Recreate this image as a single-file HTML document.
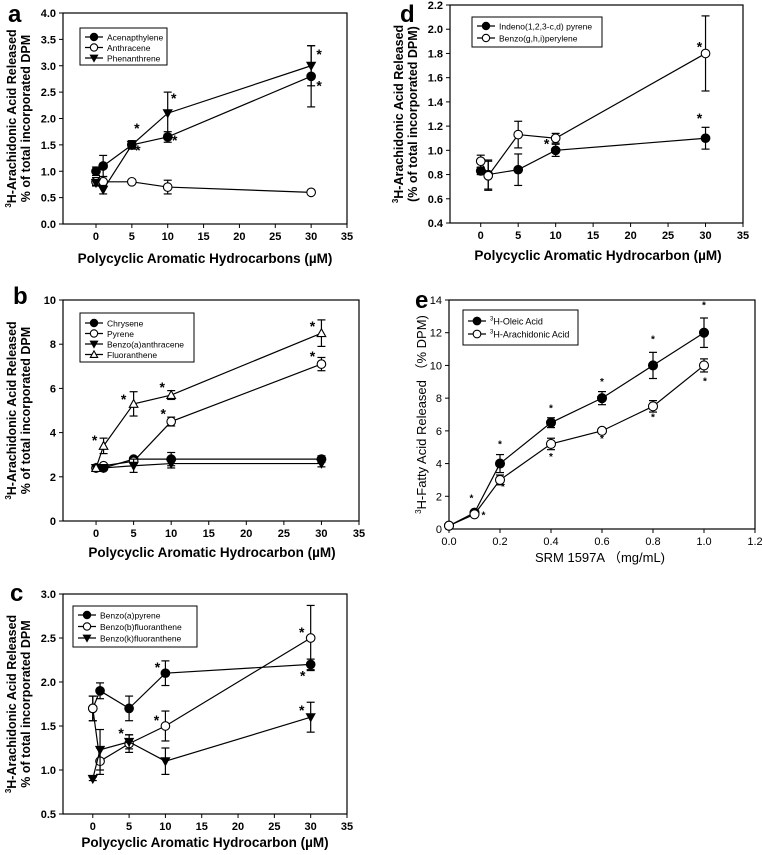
<!DOCTYPE html>
<html><head><meta charset="utf-8"><style>
html,body{margin:0;padding:0;background:#fff;}
svg{display:block;font-family:"Liberation Sans",Arial,sans-serif;}
</style></head><body>
<svg id="fig" width="762" height="855" viewBox="0 0 762 855" xmlns="http://www.w3.org/2000/svg"></svg>
<script>
// ---------- Panel data ----------
const xPah = [0, 1, 5, 10, 30];
const xTicksPah = [0, 5, 10, 15, 20, 25, 30, 35];

// panel a
const aAcenY = [1.0, 1.1, 1.5, 1.65, 2.8];
const aAcenE = [0.08, 0.2, 0.07, 0.1, 0.58];
const aAnthY = [0.8, 0.8, 0.8, 0.7, 0.6];
const aAnthE = [0.08, 0.1, 0.04, 0.13, 0.02];
const aPhenY = [0.78, 0.65, 1.5, 2.1, 3.0];
const aPhenE = [0.05, 0.08, 0.08, 0.4, 0.38];
const aYTicks = [0.0, 0.5, 1.0, 1.5, 2.0, 2.5, 3.0, 3.5, 4.0];

// panel b
const bChryY = [2.4, 2.4, 2.8, 2.8, 2.8];
const bChryE = [0.05, 0.05, 0.1, 0.3, 0.15];
const bPyrY = [2.4, 2.5, 2.7, 4.5, 7.1];
const bPyrE = [0.05, 0.05, 0.1, 0.2, 0.3];
const bBaaY = [2.4, 2.4, 2.5, 2.6, 2.6];
const bBaaE = [0.05, 0.05, 0.3, 0.2, 0.15];
const bFluY = [2.4, 3.4, 5.3, 5.7, 8.5];
const bFluE = [0.05, 0.35, 0.55, 0.2, 0.6];
const bYTicks = [0, 2, 4, 6, 8, 10];

// panel c
const cBapY = [1.7, 1.9, 1.7, 2.1, 2.2];
const cBapE = [0.14, 0.09, 0.14, 0.14, 0.06];
const cBbfY = [1.7, 1.1, 1.3, 1.5, 2.5];
const cBbfE = [0.14, 0.15, 0.1, 0.17, 0.37];
const cBkfY = [0.9, 1.23, 1.32, 1.1, 1.6];
const cBkfE = [0.02, 0.23, 0.08, 0.15, 0.17];
const cYTicks = [0.5, 1.0, 1.5, 2.0, 2.5, 3.0];

// panel d
const dIndY = [0.83, 0.8, 0.84, 1.0, 1.1];
const dIndE = [0.03, 0.12, 0.13, 0.05, 0.09];
const dBghiY = [0.91, 0.79, 1.13, 1.1, 1.8];
const dBghiE = [0.05, 0.12, 0.11, 0.04, 0.31];
const dYTicks = [0.4, 0.6, 0.8, 1.0, 1.2, 1.4, 1.6, 1.8, 2.0, 2.2];

// panel e
const eX = [0, 0.1, 0.2, 0.4, 0.6, 0.8, 1.0];
const eOleY = [0.2, 1.0, 4.0, 6.5, 8.0, 10.0, 12.0];
const eOleE = [0.05, 0.1, 0.55, 0.3, 0.4, 0.8, 0.9];
const eAraY = [0.2, 0.9, 3.0, 5.2, 6.0, 7.5, 10.0];
const eAraE = [0.05, 0.1, 0.3, 0.35, 0.1, 0.35, 0.4];
const eXTicks = [0.0, 0.2, 0.4, 0.6, 0.8, 1.0, 1.2];
const eYTicks = [0, 2, 4, 6, 8, 10, 12, 14];

// ---------- drawing helpers ----------
const NS = "http://www.w3.org/2000/svg";
const svg = document.getElementById("fig");
function mk(tag, attrs, parent, text) {
  const e = document.createElementNS(NS, tag);
  for (const k in attrs) e.setAttribute(k, attrs[k]);
  if (text !== undefined) e.textContent = text;
  (parent || svg).appendChild(e);
  return e;
}
function marker(g, type, x, y, r) {
  let el;
  if (type === "fc" || type === "oc") {
    el = mk("circle", {cx: x, cy: y, r: r, fill: type === "fc" ? "#000" : "#fff", stroke: "#000", "stroke-width": 1.1}, g);
  } else if (type === "dt") {
    el = mk("polygon", {points: `${x-r},${y-r*0.8} ${x+r},${y-r*0.8} ${x},${y+r}`, fill: "#000", stroke: "#000", "stroke-width": 1}, g);
  } else {
    el = mk("polygon", {points: `${x-r},${y+r*0.8} ${x+r},${y+r*0.8} ${x},${y-r}`, fill: "#fff", stroke: "#000", "stroke-width": 1.1}, g);
  }
  return el;
}

function panel(cfg) {
  const g = mk("g", {});
  
  
  const sx = v => cfg.L + (v - cfg.x0) / (cfg.x1 - cfg.x0) * (cfg.R - cfg.L);
  const sy = v => cfg.B - (v - cfg.y0) / (cfg.y1 - cfg.y0) * (cfg.B - cfg.T);
  const box = mk("rect", {x: cfg.L, y: cfg.T, width: cfg.R - cfg.L, height: cfg.B - cfg.T, fill: "none", stroke: "#000", "stroke-width": 1.2}, g);
  
  
  const fw = cfg.bold ? "bold" : "normal";
  cfg.xTicks.forEach(t => {
    const x = sx(t);
    mk("line", {x1: x, x2: x, y1: cfg.B, y2: cfg.B + 4, stroke: "#000"}, g);
    const tl = mk("text", {x: x, y: cfg.B + 16, "text-anchor": "middle", "font-size": 11, "font-weight": fw}, g, cfg.xFmt(t));
    
    
  });
  cfg.yTicks.forEach(t => {
    const y = sy(t);
    mk("line", {x1: cfg.L - 4, x2: cfg.L, y1: y, y2: y, stroke: "#000"}, g);
    const tl = mk("text", {x: cfg.L - 7, y: y + 4, "text-anchor": "end", "font-size": 11, "font-weight": fw}, g, cfg.yFmt(t));
    
    
  });
  cfg.series.forEach(s => {
    const sg = mk("g", {}, g);
    
    
    const pts = s.y.map((v, i) => sx(cfg.x[i]) + "," + sy(v)).join(" ");
    mk("polyline", {points: pts, fill: "none", stroke: "#000", "stroke-width": 1.2}, sg);
    s.y.forEach((v, i) => {
      const x = sx(cfg.x[i]), y1 = sy(v + s.e[i]), y2 = sy(v - s.e[i]);
      mk("line", {x1: x, x2: x, y1: y1, y2: y2, stroke: "#000", "stroke-width": 1.2}, sg);
      mk("line", {x1: x - 4, x2: x + 4, y1: y1, y2: y1, stroke: "#000", "stroke-width": 1.2}, sg);
      mk("line", {x1: x - 4, x2: x + 4, y1: y2, y2: y2, stroke: "#000", "stroke-width": 1.2}, sg);
    });
    s.y.forEach((v, i) => {
      const m = marker(sg, s.m, sx(cfg.x[i]), sy(v), cfg.r);
      
      
    });
    (s.stars || []).forEach(st => {
      const idx = st[0];
      const t = mk("text", {x: sx(cfg.x[idx]) + st[1], y: sy(s.y[idx]) + st[2], "text-anchor": "middle", "font-size": cfg.starSize || 14, "font-weight": "bold"}, sg, "*");
      
      
    });
  });
  // legend
  const lg = mk("g", {}, g);
  
  
  const lb = cfg.leg;
  mk("rect", {x: lb.x, y: lb.y, width: lb.w, height: lb.h, fill: "#fff", stroke: "#000", "stroke-width": 1}, lg);
  cfg.series.forEach((s, i) => {
    const y = lb.y + lb.pad + i * lb.dy;
    const e = mk("g", {}, lg);
    
    
    mk("line", {x1: lb.x + 5, x2: lb.x + 23, y1: y, y2: y, stroke: "#000", "stroke-width": 1.2}, e);
    marker(e, s.m, lb.x + 14, y, cfg.r * 0.85);
    const t = mk("text", {x: lb.x + 27, y: y + 3.5, "font-size": lb.fs || 9.5, "font-weight": cfg.legBold ? "bold" : "normal"}, e);
    if (s.sup) { mk("tspan", {"font-size": 6, dy: -4}, t, s.sup); mk("tspan", {dy: 4}, t, s.label); }
    else t.textContent = s.label;
  });
  // titles
  const letter = mk("text", {x: cfg.letter[0], y: cfg.letter[1], "font-size": 24, "font-weight": "bold"}, g, cfg.letterText);
  
  
  const xl = mk("text", {x: cfg.xl[0], y: cfg.xl[1], "text-anchor": "middle", "font-size": cfg.xlSize || 13.5, "font-weight": cfg.xlBold === false ? "normal" : "bold"}, g);
  
  
  xl.textContent = cfg.xlText;
  cfg.yl.forEach((ln, i) => {
    const cx = ln.x, cy = (cfg.T + cfg.B) / 2;
    const t = mk("text", {x: cx, y: cy, "text-anchor": "middle", "font-size": cfg.ylSize || 12.5, "font-weight": cfg.ylBold === false ? "normal" : "bold", transform: `rotate(-90 ${cx} ${cy})`}, g);
    
    
    if (ln.sup) { mk("tspan", {"font-size": 8, dy: -5}, t, ln.sup); mk("tspan", {dy: 5}, t, ln.text); }
    else t.textContent = ln.text;
  });
}

const f1 = v => v.toFixed(1), f0 = v => String(v);

panel({name: "panel-a", L: 63, R: 347, T: 13, B: 224, x0: -4.6, x1: 35, y0: 0, y1: 4, x: xPah,
  xTicks: xTicksPah, yTicks: aYTicks, xFmt: f0, yFmt: f1, bold: true, r: 4.3,
  series: [
    {key: "acenapthylene", label: "Acenapthylene", m: "fc", y: aAcenY, e: aAcenE, stars: [[2, 6, 10], [3, 7, 8], [4, 8, 14]]},
    {key: "anthracene", label: "Anthracene", m: "oc", y: aAnthY, e: aAnthE},
    {key: "phenanthrene", label: "Phenanthrene", m: "dt", y: aPhenY, e: aPhenE, stars: [[2, 5, -12], [3, 6, -10], [4, 8, -7]]}],
  leg: {x: 80, y: 28, w: 87, h: 37, pad: 9, dy: 10.5, fs: 8.5}, letter: [8, 22], letterText: "a",
  xl: [205, 263], xlText: "Polycyclic Aromatic Hydrocarbons (µM)",
  yl: [{x: 16, sup: "3", text: "H-Arachidonic Acid Released"}, {x: 30, text: "% of total incorporated DPM"}]});

panel({name: "panel-d", L: 450, R: 743, T: 5, B: 223, x0: -4.1, x1: 35, y0: 0.4, y1: 2.2, x: xPah,
  xTicks: xTicksPah, yTicks: dYTicks, xFmt: f0, yFmt: f1, bold: true, r: 4.3,
  series: [
    {key: "indeno-pyrene", label: "Indeno(1,2,3-c,d) pyrene", m: "fc", y: dIndY, e: dIndE, stars: [[3, -9, -2], [4, -6, -15]]},
    {key: "benzo-ghi-perylene", label: "Benzo(g,h,i)perylene", m: "oc", y: dBghiY, e: dBghiE, stars: [[4, -6, -2]]}],
  leg: {x: 472, y: 17, w: 130, h: 30, pad: 9, dy: 12, fs: 8.5}, letter: [400, 22], letterText: "d",
  xl: [598, 260], xlText: "Polycyclic Aromatic Hydrocarbon (µM)",
  yl: [{x: 403, sup: "3", text: "H-Arachidonic Acid Released"}, {x: 417, text: "(% of total incorporated DPM)"}]});

panel({name: "panel-b", L: 63, R: 359, T: 300, B: 521, x0: -4.4, x1: 35, y0: 0, y1: 10, x: xPah,
  xTicks: xTicksPah, yTicks: bYTicks, xFmt: f0, yFmt: f0, bold: true, r: 4.3,
  series: [
    {key: "chrysene", label: "Chrysene", m: "fc", y: bChryY, e: bChryE},
    {key: "pyrene", label: "Pyrene", m: "oc", y: bPyrY, e: bPyrE, stars: [[3, -8, -3], [4, -9, -3]]},
    {key: "benzo-a-anthracene", label: "Benzo(a)anthracene", m: "dt", y: bBaaY, e: bBaaE},
    {key: "fluoranthene", label: "Fluoranthene", m: "ut", y: bFluY, e: bFluE, stars: [[1, -9, -1], [2, -10, 0], [3, -9, -3], [4, -9, -2]]}],
  leg: {x: 80, y: 313, w: 114, h: 49, pad: 10, dy: 10.5, fs: 8.5}, letter: [13, 304], letterText: "b",
  xl: [212, 557], xlText: "Polycyclic Aromatic Hydrocarbon (µM)",
  yl: [{x: 16, sup: "3", text: "H-Arachidonic Acid Released"}, {x: 30, text: "% of total incorporated DPM"}]});

panel({name: "panel-c", L: 63, R: 347, T: 594, B: 814, x0: -4.1, x1: 35, y0: 0.5, y1: 3.0, x: xPah,
  xTicks: xTicksPah, yTicks: cYTicks, xFmt: f0, yFmt: f1, bold: true, r: 4.3,
  series: [
    {key: "benzo-a-pyrene", label: "Benzo(a)pyrene", m: "fc", y: cBapY, e: cBapE, stars: [[3, -8, -1], [4, -8, 16]]},
    {key: "benzo-b-fluoranthene", label: "Benzo(b)fluoranthene", m: "oc", y: cBbfY, e: cBbfE, stars: [[3, -9, -1], [4, -9, -1]]},
    {key: "benzo-k-fluoranthene", label: "Benzo(k)fluoranthene", m: "dt", y: cBkfY, e: cBkfE, stars: [[2, -8, -4], [4, -9, -2]]}],
  leg: {x: 73, y: 606, w: 124, h: 41, pad: 9, dy: 11.5, fs: 8.5}, letter: [10, 601], letterText: "c",
  xl: [205, 847], xlText: "Polycyclic Aromatic Hydrocarbon (µM)",
  yl: [{x: 16, sup: "3", text: "H-Arachidonic Acid Released"}, {x: 30, text: "% of total incorporated DPM"}]});

panel({name: "panel-e", L: 449, R: 755, T: 300, B: 529, x0: 0, x1: 1.2, y0: 0, y1: 14, x: eX,
  xTicks: eXTicks, yTicks: eYTicks, xFmt: f1, yFmt: f0, bold: false, r: 4.5, starSize: 10,
  series: [
    {key: "oleic-acid", sup: "3", label: "H-Oleic Acid", m: "fc", y: eOleY, e: eOleE, stars: [[1, -3, -11], [2, 0, -16], [3, 0, -11], [4, 0, -13], [5, 0, -23], [6, 0, -24]]},
    {key: "arachidonic-acid", sup: "3", label: "H-Arachidonic Acid", m: "oc", y: eAraY, e: eAraE, stars: [[1, 9, 4], [2, 3, 10], [3, 0, 16], [4, 0, 11], [5, 0, 14], [6, 1, 19]]}],
  leg: {x: 463, y: 310, w: 115, h: 35, pad: 11, dy: 13, fs: 9}, letter: [415, 308], letterText: "e",
  xl: [600, 562], xlText: "SRM 1597A （mg/mL)", xlBold: false, xlSize: 13,
  ylBold: false, ylSize: 13,
  yl: [{x: 426, sup: "3", text: "H-Fatty Acid Released （% DPM)"}]});
</script>
</body></html>
